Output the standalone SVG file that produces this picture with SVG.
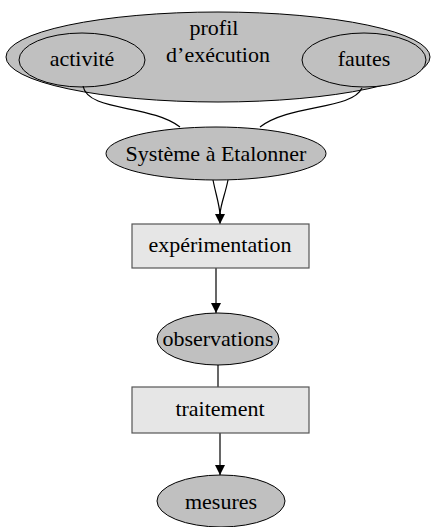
<svg xmlns="http://www.w3.org/2000/svg" width="431" height="527" viewBox="0 0 431 527">
<style>
.ell{fill:#c0c0c0;stroke:#000;stroke-width:1}
.box{fill:#e6e6e6;stroke:#555;stroke-width:1.2}
.t{font-family:"Liberation Serif","Times New Roman",serif;font-size:22px;fill:#000;text-anchor:middle}
.c{fill:none;stroke:#000;stroke-width:1.2}
</style>
<defs>
<marker id="ah" viewBox="0 0 10 10" refX="10" refY="5" markerWidth="10" markerHeight="10" markerUnits="userSpaceOnUse" orient="auto">
<path d="M0,0 L10,5 L0,10 Z" fill="#000"/>
</marker>
</defs>
<g id="profil">
<ellipse class="ell" cx="218" cy="57" rx="212" ry="45"/>
<text class="t" x="214" y="35">profil</text>
<text class="t" x="218" y="62">d’exécution</text>
</g>
<g id="activite">
<ellipse class="ell" cx="82" cy="60" rx="63" ry="27"/>
<text class="t" x="82" y="66">activité</text>
</g>
<g id="fautes">
<ellipse class="ell" cx="364" cy="60" rx="62" ry="27"/>
<text class="t" x="364" y="66">fautes</text>
</g>
<g id="connectors">
<path class="c" d="M83,86 C88,112 150,104 180,127"/>
<path class="c" d="M362,88 C352,110 290,104 260,127"/>
<path class="c" d="M213,180 C216,195 219,203 220,214"/>
<path class="c" d="M228,180 C225,195 221,203 220,214"/>
<path class="c" d="M220,213 L220,224" marker-end="url(#ah)"/>
<path class="c" d="M216,268 L216,313" marker-end="url(#ah)"/>
<path class="c" d="M218,365 L218,387"/>
<path class="c" d="M220,433 L220,475" marker-end="url(#ah)"/>
</g>
<g id="systeme">
<ellipse class="ell" cx="216" cy="153.5" rx="110" ry="26.5"/>
<text class="t" x="216" y="161">Système à Etalonner</text>
</g>
<g id="experimentation">
<rect class="box" x="132" y="224" width="177" height="44"/>
<text class="t" x="220" y="252">expérimentation</text>
</g>
<g id="observations">
<ellipse class="ell" cx="218" cy="339" rx="61" ry="26"/>
<text class="t" x="218" y="346">observations</text>
</g>
<g id="traitement">
<rect class="box" x="132" y="387" width="177" height="46"/>
<text class="t" x="220" y="416">traitement</text>
</g>
<g id="mesures">
<ellipse class="ell" cx="221" cy="501" rx="64" ry="26"/>
<text class="t" x="221" y="509">mesures</text>
</g>
</svg>
